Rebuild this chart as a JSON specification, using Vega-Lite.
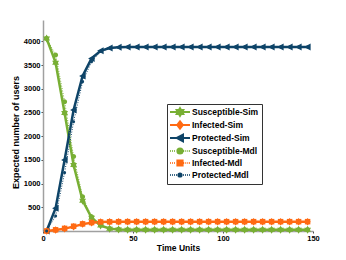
{
  "$schema": "https://vega.github.io/schema/vega-lite/v6.json",
  "width": 270,
  "height": 211,
  "autosize": {"type": "none"},
  "padding": {"left": 43, "top": 20, "right": 33, "bottom": 29},
  "background": "white",
  "config": {"view": {"stroke": null}, "font": "Liberation Sans"},
  "data": {
    "values": [
      {"t": 2, "Susceptible-Sim": 4060, "Infected-Sim": 0, "Protected-Sim": 0, "Susceptible-Mdl": 4060, "Infected-Mdl": 0, "Protected-Mdl": 0},
      {"t": 7, "Susceptible-Sim": 3550, "Infected-Sim": 22, "Protected-Sim": 480, "Susceptible-Mdl": 3714, "Infected-Mdl": 25, "Protected-Mdl": 316},
      {"t": 12, "Susceptible-Sim": 2490, "Infected-Sim": 50, "Protected-Sim": 1498, "Susceptible-Mdl": 2728, "Infected-Mdl": 55, "Protected-Mdl": 1230},
      {"t": 17, "Susceptible-Sim": 1393, "Infected-Sim": 92, "Protected-Sim": 2553, "Susceptible-Mdl": 1570, "Infected-Mdl": 100, "Protected-Mdl": 2306},
      {"t": 22, "Susceptible-Sim": 640, "Infected-Sim": 145, "Protected-Sim": 3270, "Susceptible-Mdl": 724, "Infected-Mdl": 150, "Protected-Mdl": 3150},
      {"t": 27, "Susceptible-Sim": 280, "Infected-Sim": 175, "Protected-Sim": 3640, "Susceptible-Mdl": 300, "Infected-Mdl": 178, "Protected-Mdl": 3572},
      {"t": 32, "Susceptible-Sim": 115, "Infected-Sim": 188, "Protected-Sim": 3800, "Susceptible-Mdl": 125, "Infected-Mdl": 190, "Protected-Mdl": 3785},
      {"t": 37, "Susceptible-Sim": 50, "Infected-Sim": 193, "Protected-Sim": 3860, "Susceptible-Mdl": 55, "Infected-Mdl": 194, "Protected-Mdl": 3855},
      {"t": 42, "Susceptible-Sim": 32, "Infected-Sim": 195, "Protected-Sim": 3875, "Susceptible-Mdl": 35, "Infected-Mdl": 196, "Protected-Mdl": 3872},
      {"t": 47, "Susceptible-Sim": 27, "Infected-Sim": 196, "Protected-Sim": 3880, "Susceptible-Mdl": 28, "Infected-Mdl": 197, "Protected-Mdl": 3878},
      {"t": 52, "Susceptible-Sim": 25, "Infected-Sim": 196, "Protected-Sim": 3880, "Susceptible-Mdl": 25, "Infected-Mdl": 197, "Protected-Mdl": 3880},
      {"t": 57, "Susceptible-Sim": 25, "Infected-Sim": 196, "Protected-Sim": 3880, "Susceptible-Mdl": 25, "Infected-Mdl": 197, "Protected-Mdl": 3880},
      {"t": 62, "Susceptible-Sim": 25, "Infected-Sim": 196, "Protected-Sim": 3880, "Susceptible-Mdl": 25, "Infected-Mdl": 197, "Protected-Mdl": 3880},
      {"t": 67, "Susceptible-Sim": 25, "Infected-Sim": 196, "Protected-Sim": 3880, "Susceptible-Mdl": 25, "Infected-Mdl": 197, "Protected-Mdl": 3880},
      {"t": 72, "Susceptible-Sim": 25, "Infected-Sim": 196, "Protected-Sim": 3880, "Susceptible-Mdl": 25, "Infected-Mdl": 197, "Protected-Mdl": 3880},
      {"t": 77, "Susceptible-Sim": 25, "Infected-Sim": 196, "Protected-Sim": 3880, "Susceptible-Mdl": 25, "Infected-Mdl": 197, "Protected-Mdl": 3880},
      {"t": 82, "Susceptible-Sim": 25, "Infected-Sim": 196, "Protected-Sim": 3880, "Susceptible-Mdl": 25, "Infected-Mdl": 197, "Protected-Mdl": 3880},
      {"t": 87, "Susceptible-Sim": 25, "Infected-Sim": 196, "Protected-Sim": 3880, "Susceptible-Mdl": 25, "Infected-Mdl": 197, "Protected-Mdl": 3880},
      {"t": 92, "Susceptible-Sim": 25, "Infected-Sim": 196, "Protected-Sim": 3880, "Susceptible-Mdl": 25, "Infected-Mdl": 197, "Protected-Mdl": 3880},
      {"t": 97, "Susceptible-Sim": 25, "Infected-Sim": 196, "Protected-Sim": 3880, "Susceptible-Mdl": 25, "Infected-Mdl": 197, "Protected-Mdl": 3880},
      {"t": 102, "Susceptible-Sim": 25, "Infected-Sim": 196, "Protected-Sim": 3880, "Susceptible-Mdl": 25, "Infected-Mdl": 197, "Protected-Mdl": 3880},
      {"t": 107, "Susceptible-Sim": 25, "Infected-Sim": 196, "Protected-Sim": 3880, "Susceptible-Mdl": 25, "Infected-Mdl": 197, "Protected-Mdl": 3880},
      {"t": 112, "Susceptible-Sim": 25, "Infected-Sim": 196, "Protected-Sim": 3880, "Susceptible-Mdl": 25, "Infected-Mdl": 197, "Protected-Mdl": 3880},
      {"t": 117, "Susceptible-Sim": 25, "Infected-Sim": 196, "Protected-Sim": 3880, "Susceptible-Mdl": 25, "Infected-Mdl": 197, "Protected-Mdl": 3880},
      {"t": 122, "Susceptible-Sim": 25, "Infected-Sim": 196, "Protected-Sim": 3880, "Susceptible-Mdl": 25, "Infected-Mdl": 197, "Protected-Mdl": 3880},
      {"t": 127, "Susceptible-Sim": 25, "Infected-Sim": 196, "Protected-Sim": 3880, "Susceptible-Mdl": 25, "Infected-Mdl": 197, "Protected-Mdl": 3880},
      {"t": 132, "Susceptible-Sim": 25, "Infected-Sim": 196, "Protected-Sim": 3880, "Susceptible-Mdl": 25, "Infected-Mdl": 197, "Protected-Mdl": 3880},
      {"t": 137, "Susceptible-Sim": 25, "Infected-Sim": 196, "Protected-Sim": 3880, "Susceptible-Mdl": 25, "Infected-Mdl": 197, "Protected-Mdl": 3880},
      {"t": 142, "Susceptible-Sim": 25, "Infected-Sim": 196, "Protected-Sim": 3880, "Susceptible-Mdl": 25, "Infected-Mdl": 197, "Protected-Mdl": 3880},
      {"t": 147, "Susceptible-Sim": 25, "Infected-Sim": 196, "Protected-Sim": 3880, "Susceptible-Mdl": 25, "Infected-Mdl": 197, "Protected-Mdl": 3880}
    ]
  },
  "transform": [
    {"fold": ["Susceptible-Sim", "Infected-Sim", "Protected-Sim", "Susceptible-Mdl", "Infected-Mdl", "Protected-Mdl"], "as": ["series", "v"]}
  ],
  "encoding": {
    "x": {
      "field": "t", "type": "quantitative",
      "scale": {"domain": [0, 150], "nice": false},
      "axis": {"orient": "bottom", "values": [0, 50, 100, 150], "format": "d", "title": "Time Units", "titleFontSize": 8.5, "titleFontWeight": "bold", "titleColor": "black", "titlePadding": 2, "labelFontSize": 7.5, "labelFontWeight": "bold", "labelColor": "black", "labelPadding": 1, "domainColor": "#a0a0a0", "domainWidth": 1.5, "tickColor": "#444", "tickSize": 2, "grid": false, "labelFlush": false}
    },
    "y": {
      "field": "v", "type": "quantitative",
      "scale": {"domain": [0, 4450], "nice": false},
      "axis": {"values": [500, 1000, 1500, 2000, 2500, 3000, 3500, 4000], "format": "d", "title": "Expected number of users", "titleFontSize": 9, "titleFontWeight": "bold", "titleColor": "black", "titlePadding": 3, "titleY": 112, "labelFontSize": 7.5, "labelFontWeight": "bold", "labelColor": "black", "labelPadding": 1, "domainColor": "#a0a0a0", "domainWidth": 1.5, "tickColor": "#444", "tickSize": 2, "grid": false}
    }
  },
  "layer": [
    {
      "transform": [{"filter": "indexof(datum.series, 'Sim') >= 0"}],
      "mark": {"type": "line", "strokeWidth": 2.5},
      "encoding": {
        "color": {
          "field": "series", "type": "nominal",
          "scale": {"domain": ["Susceptible-Sim", "Infected-Sim", "Protected-Sim", "Susceptible-Mdl", "Infected-Mdl", "Protected-Mdl"], "range": ["#78AF34", "#FF6A13", "#0E4468", "#78AF34", "#FF6A13", "#0E4468"]}
        }
      }
    },
    {
      "transform": [{"filter": "datum.series === 'Susceptible-Sim'"}],
      "mark": {"type": "point", "filled": true, "opacity": 1, "size": 100, "shape": "M0,-0.8L0.23,-0.4L0.69,-0.4L0.46,0L0.69,0.4L0.23,0.4L0,0.8L-0.23,0.4L-0.69,0.4L-0.46,0L-0.69,-0.4L-0.23,-0.4Z"},
      "encoding": {"color": {"field": "series", "type": "nominal"}}
    },
    {
      "transform": [{"filter": "datum.series === 'Infected-Sim'"}],
      "mark": {"type": "point", "filled": true, "opacity": 1, "size": 100, "shape": "M0,-0.75L0.6,0L0,0.75L-0.6,0Z"},
      "encoding": {"color": {"field": "series", "type": "nominal"}}
    },
    {
      "transform": [{"filter": "datum.series === 'Protected-Sim'"}],
      "mark": {"type": "point", "filled": true, "opacity": 1, "size": 100, "shape": "M-0.7,0L0.6,-0.7L0.6,0.7Z"},
      "encoding": {"color": {"field": "series", "type": "nominal"}}
    },
    {
      "transform": [{"filter": "indexof(datum.series, 'Mdl') >= 0"}],
      "mark": {"type": "line", "strokeWidth": 1, "strokeDash": [1, 1.5]},
      "encoding": {"color": {"field": "series", "type": "nominal"}}
    },
    {
      "transform": [{"filter": "datum.series === 'Susceptible-Mdl'"}],
      "mark": {"type": "point", "filled": true, "opacity": 1, "size": 100, "shape": "M0.5,0A0.5,0.5,0,1,1,-0.5,0A0.5,0.5,0,1,1,0.5,0Z"},
      "encoding": {"color": {"field": "series", "type": "nominal"}}
    },
    {
      "transform": [{"filter": "datum.series === 'Infected-Mdl'"}],
      "mark": {"type": "point", "filled": true, "opacity": 1, "size": 100, "shape": "M-0.55,-0.55H0.55V0.55H-0.55Z"},
      "encoding": {"color": {"field": "series", "type": "nominal"}}
    },
    {
      "transform": [{"filter": "datum.series === 'Protected-Mdl'"}],
      "mark": {"type": "point", "filled": true, "opacity": 1, "size": 100, "shape": "M0.3,0A0.3,0.3,0,1,1,-0.3,0A0.3,0.3,0,1,1,0.3,0Z"},
      "encoding": {"color": {"field": "series", "type": "nominal"}}
    },
    {
      "mark": {"type": "point", "filled": true, "opacity": 0, "size": 64},
      "encoding": {
        "color": {
          "field": "series", "type": "nominal",
          "legend": {
            "title": null, "orient": "none", "legendX": 124, "legendY": 84,
            "strokeColor": "#333", "fillColor": "white", "padding": 3,
            "symbolSize": 64, "symbolStrokeWidth": 2, "symbolOpacity": 1,
            "labelFontSize": 8.5, "labelFontWeight": "bold", "labelColor": "black", "labelOffset": 12, "rowPadding": -5.9
          }
        },
        "stroke": {
          "field": "series", "type": "nominal",
          "scale": {"domain": ["Susceptible-Sim", "Infected-Sim", "Protected-Sim", "Susceptible-Mdl", "Infected-Mdl", "Protected-Mdl"], "range": ["#78AF34", "#FF6A13", "#0E4468", "#78AF34", "#FF6A13", "#0E4468"]},
          "legend": {"title": null}
        },
        "shape": {
          "field": "series", "type": "nominal",
          "scale": {"domain": ["Susceptible-Sim", "Infected-Sim", "Protected-Sim", "Susceptible-Mdl", "Infected-Mdl", "Protected-Mdl"], "range": [
            "M-1.25,0H3.75M1.25,-0.95L1.52,-0.48L2.07,-0.48L1.8,0L2.07,0.48L1.52,0.48L1.25,0.95L0.98,0.48L0.43,0.48L0.7,0L0.43,-0.48L0.98,-0.48Z",
            "M-1.25,0H3.75M1.25,-0.9L1.95,0L1.25,0.9L0.55,0Z",
            "M-1.25,0H3.75M0.45,0L2,-0.85L2,0.85Z",
            "M-1.25,0h0.2M-0.75,0h0.2M-0.25,0h0.2M2.1,0h0.2M2.6,0h0.2M3.1,0h0.2M3.55,0h0.2M1.9,0A0.65,0.65,0,1,1,0.6,0A0.65,0.65,0,1,1,1.9,0Z",
            "M-1.25,0h0.2M-0.75,0h0.2M-0.25,0h0.2M2.1,0h0.2M2.6,0h0.2M3.1,0h0.2M3.55,0h0.2M0.6,-0.65H1.9V0.65H0.6Z",
            "M-1.25,0h0.2M-0.75,0h0.2M-0.25,0h0.2M0.25,0h0.2M2.05,0h0.2M2.55,0h0.2M3.05,0h0.2M3.55,0h0.2M1.65,0A0.4,0.4,0,1,1,0.85,0A0.4,0.4,0,1,1,1.65,0Z"
          ]},
          "legend": {"title": null}
        }
      }
    }
  ]
}
